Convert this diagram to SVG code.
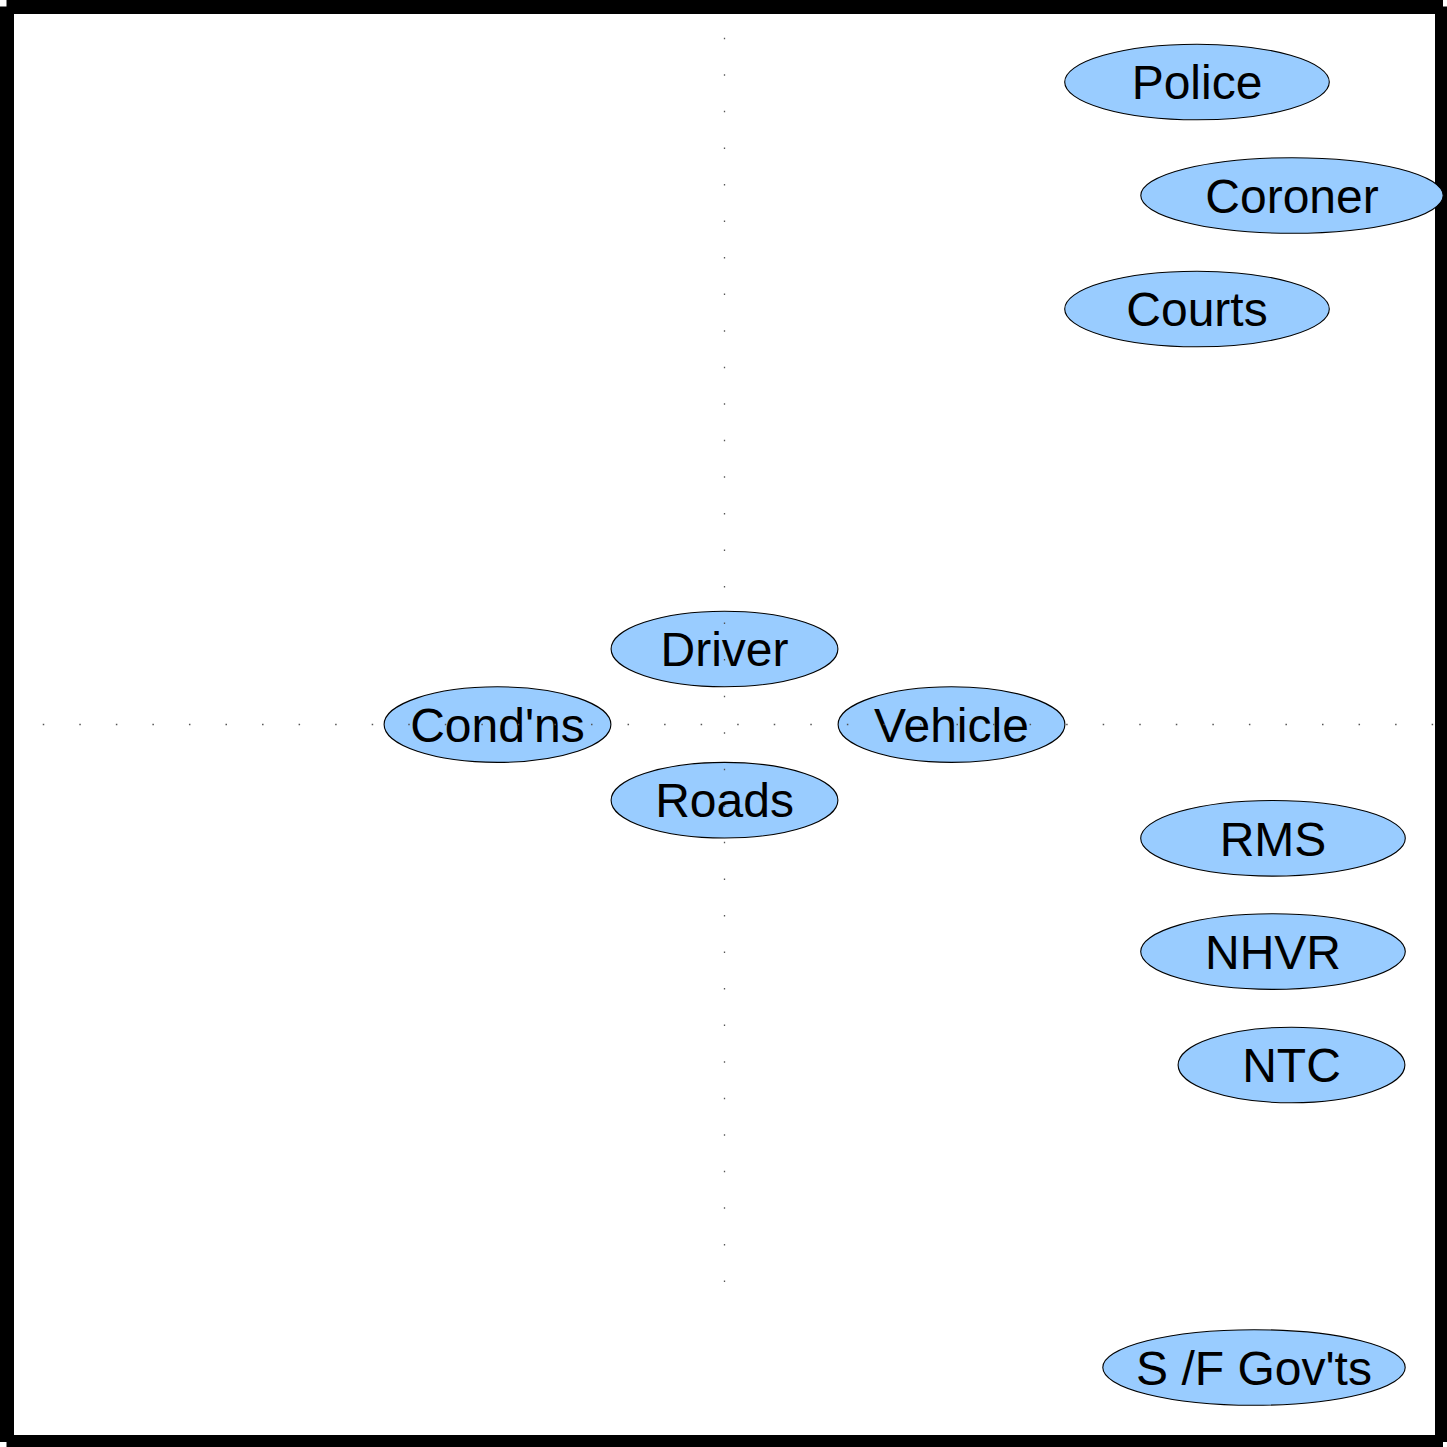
<svg xmlns="http://www.w3.org/2000/svg" width="1447" height="1447" viewBox="0 0 1447 1447">
<style>
.n ellipse{fill:#99ccff;stroke:#000;stroke-width:1.1}
.n text{font-family:"Liberation Sans",Arial,sans-serif;font-size:48px;fill:#000;text-anchor:middle}
.ax{stroke:#555;stroke-width:1.3;stroke-dasharray:1.5 35.05;fill:none}
</style>
<rect width="1447" height="1447" fill="#fff"/>
<path id="frame" fill="#000" fill-rule="evenodd" d="M6.5,0 H1443 V6.5 H1447 V1442 H1443 V1447 H6.5 V1442 H0 V6.5 H6.5 Z M14,14 V1435 H1435 V14 Z"/>
<g id="police" class="n"><ellipse cx="1197" cy="82" rx="132.3" ry="37.8"/><text x="1197" y="99.2">Police</text></g>
<g id="coroner" class="n"><ellipse cx="1292" cy="195.5" rx="151.2" ry="37.8"/><text x="1292" y="212.7">Coroner</text></g>
<g id="courts" class="n"><ellipse cx="1197" cy="309" rx="132.3" ry="37.8"/><text x="1197" y="326.2">Courts</text></g>
<g id="driver" class="n"><ellipse cx="724.5" cy="649" rx="113.4" ry="37.8"/><text x="724.5" y="666.2">Driver</text></g>
<g id="condns" class="n"><ellipse cx="497.5" cy="724.6" rx="113.4" ry="37.8"/><text x="497.5" y="741.8">Cond'ns</text></g>
<g id="vehicle" class="n"><ellipse cx="951.5" cy="724.6" rx="113.4" ry="37.8"/><text x="951.5" y="741.8">Vehicle</text></g>
<g id="roads" class="n"><ellipse cx="724.5" cy="800.2" rx="113.4" ry="37.8"/><text x="724.5" y="817.4">Roads</text></g>
<g id="rms" class="n"><ellipse cx="1273" cy="838.3" rx="132.3" ry="37.8"/><text x="1273" y="855.5">RMS</text></g>
<g id="nhvr" class="n"><ellipse cx="1273" cy="951.6" rx="132.3" ry="37.8"/><text x="1273" y="968.8">NHVR</text></g>
<g id="ntc" class="n"><ellipse cx="1291.5" cy="1065" rx="113.4" ry="37.8"/><text x="1291.5" y="1082.2">NTC</text></g>
<g id="sfgovts" class="n"><ellipse cx="1254" cy="1367.5" rx="151.2" ry="37.8"/><text x="1254" y="1384.7">S /F Gov'ts</text></g>
<g id="connectors">
<line class="ax" x1="42.75" y1="724.5" x2="1434" y2="724.5"/>
<line class="ax" x1="724.5" y1="37.75" x2="724.5" y2="1282"/>
</g>
</svg>
